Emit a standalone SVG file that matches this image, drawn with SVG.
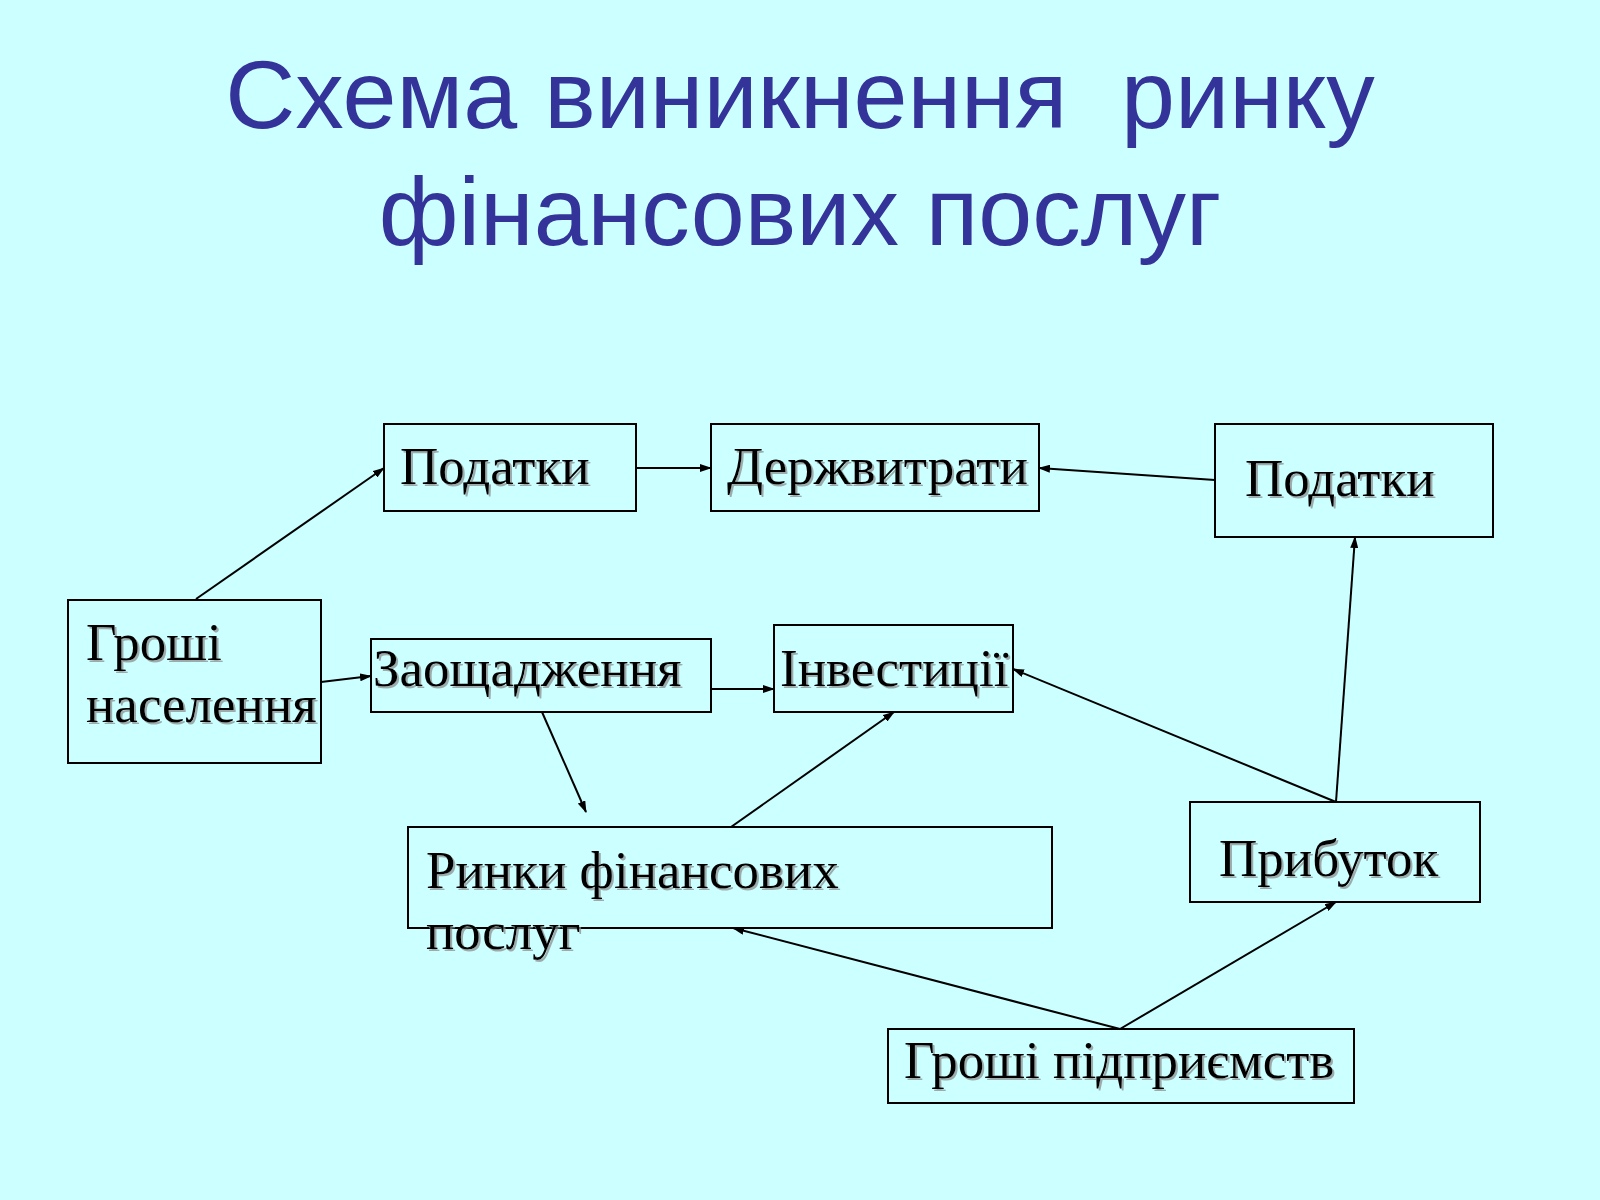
<svg xmlns="http://www.w3.org/2000/svg" width="1600" height="1200" viewBox="0 0 1600 1200">
<defs>
<marker id="ah" markerWidth="12" markerHeight="8" refX="11" refY="4" orient="auto" markerUnits="userSpaceOnUse"><path d="M0,0 L12,4 L0,8 z" fill="#000"/></marker>
<filter id="sh" x="-5%" y="-5%" width="110%" height="120%"><feDropShadow dx="2" dy="2" stdDeviation="0.5" flood-color="#888" flood-opacity="0.7"/></filter>
</defs>
<style>
.b{fill:none;stroke:#000;stroke-width:2}
.t{font-family:"Liberation Serif",serif;font-size:53px;fill:#000;filter:url(#sh)}
.h{font-family:"Liberation Sans",sans-serif;font-size:97px;fill:#333399;text-anchor:middle;white-space:pre}
.c line{stroke:#000;stroke-width:2;marker-end:url(#ah)}
</style>
<rect width="1600" height="1200" fill="#ccffff"/>
<text class="h" x="800" y="128" xml:space="preserve">Схема виникнення  ринку</text>
<text class="h" x="800" y="245">фінансових послуг</text>
<g id="podatky1"><rect class="b" x="384" y="424" width="252" height="87"/><text class="t" x="400" y="484">Податки</text></g>
<g id="derzh"><rect class="b" x="711" y="424" width="328" height="87"/><text class="t" x="727" y="484">Держвитрати</text></g>
<g id="podatky2"><rect class="b" x="1215" y="424" width="278" height="113"/><text class="t" x="1245" y="496">Податки</text></g>
<g id="groshi-nas"><rect class="b" x="68" y="600" width="253" height="163"/><text class="t" x="86" y="660">Гроші</text><text class="t" x="86" y="722">населення</text></g>
<g id="zaosch"><rect class="b" x="371" y="639" width="340" height="73"/><text class="t" x="373" y="686">Заощадження</text></g>
<g id="invest"><rect class="b" x="774" y="625" width="239" height="87"/><text class="t" x="780" y="686">Інвестиції</text></g>
<g id="rynky"><rect class="b" x="408" y="827" width="644" height="101"/><text class="t" x="426" y="888">Ринки фінансових</text><text class="t" x="426" y="949">послуг</text></g>
<g id="prybutok"><rect class="b" x="1190" y="802" width="290" height="100"/><text class="t" x="1219" y="876">Прибуток</text></g>
<g id="groshi-pid"><rect class="b" x="888" y="1029" width="466" height="74"/><text class="t" x="904" y="1078">Гроші підприємств</text></g>
<g class="c" id="connectors">
<line x1="196" y1="599" x2="384" y2="468"/>
<line x1="636" y1="468" x2="711" y2="468"/>
<line x1="1215" y1="480" x2="1039" y2="468"/>
<line x1="321" y1="682" x2="371" y2="676"/>
<line x1="711" y1="689" x2="774" y2="689"/>
<line x1="542" y1="712" x2="586" y2="812"/>
<line x1="731" y1="827" x2="894" y2="712"/>
<line x1="1336" y1="802" x2="1013" y2="669"/>
<line x1="1336" y1="802" x2="1355" y2="537"/>
<line x1="1120" y1="1029" x2="733" y2="928"/>
<line x1="1120" y1="1029" x2="1336" y2="902"/>
</g>
</svg>
